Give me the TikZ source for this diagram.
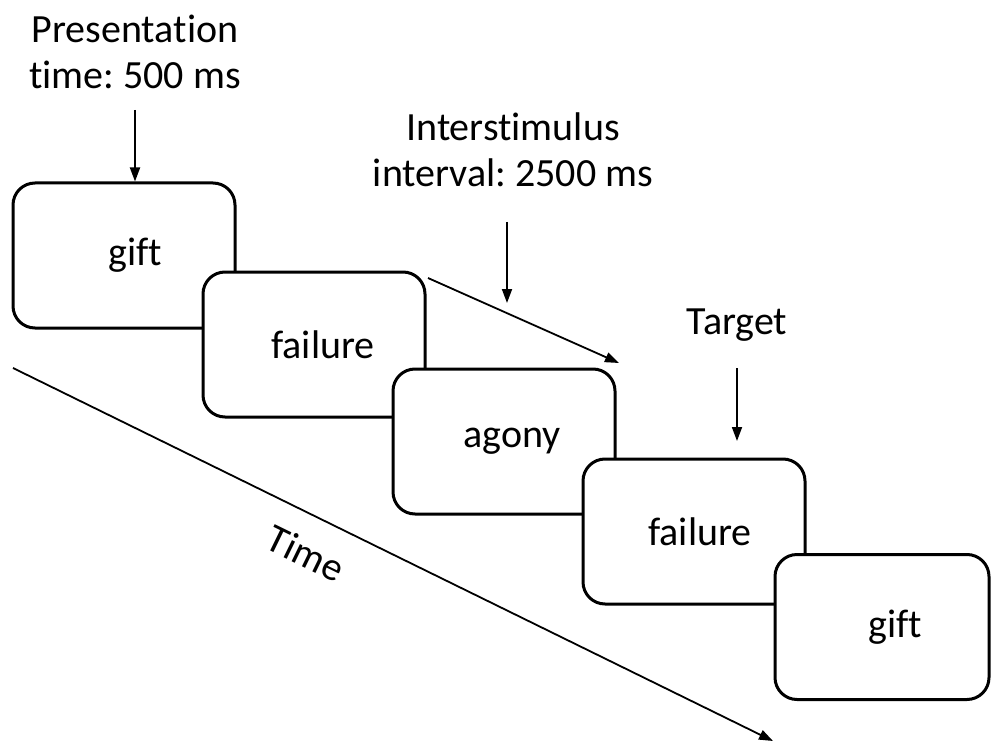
\documentclass[tikz,border=0pt]{standalone}
\usepackage{fontspec}
\setmainfont[Ligatures={NoCommon}]{Carlito}
\usetikzlibrary{arrows.meta}
\frenchspacing
\begin{document}
\begin{tikzpicture}[x=1pt,y=-1pt,
  card/.style={draw=black,line width=3pt,fill=white,rounded corners=22pt,
    minimum width=222pt,minimum height=145pt,inner sep=0pt},
  word/.style={font=\fontsize{40}{46}\selectfont,inner sep=0pt},
  lbl/.style={font=\fontsize{40}{46}\selectfont,align=center,inner sep=0pt},
  arr/.style={line width=1.8pt,-{Triangle[length=14pt,width=10pt]}}]
\useasboundingbox (0,0) rectangle (992,743);
% time axis (behind cards)
\coordinate (t0) at (13,368);
\coordinate (t1) at (773,741);
\draw[arr] (t0) -- (t1);
\node[word,rotate=-26] (time) at (306,553) {Time};
% cards
\node[card] (c1) at (124,255.5) {};
\node[word] at ([xshift=11pt]c1.center) {gift};
\node[card] (c2) at (314,344.5) {};
\node[word] at ([xshift=9pt]c2.center) {failure};
\node[card] (c3) at (504,441.5) {};
\node[word] at ([xshift=8pt]c3.center) {agony};
\node[card] (c4) at (694,531.5) {};
\node[word] at ([xshift=6pt]c4.center) {failure};
\node[card,minimum width=214pt] (c5) at (882,627) {};
\node[word] at ([xshift=13pt]c5.center) {gift};
% labels
\node[lbl] (pres) at (135,52) {Presentation\\time: 500 ms};
\coordinate (p0) at (135,110);
\draw[arr] (p0) -- (p0 |- c1.north);
\node[lbl] (isi) at (513,150) {Interstimulus\\interval: 2500 ms};
\coordinate (i0) at (507,222);
\coordinate (i1) at (507,303);
\draw[arr] (i0) -- (i1);
\coordinate (d0) at (428,278);
\coordinate (d1) at (619,363);
\draw[arr] (d0) -- (d1);
\node[word] (tgt) at (737,325) {Target};
\coordinate (g0) at (737,368);
\coordinate (g1) at (737,441);
\draw[arr] (g0) -- (g1);
\end{tikzpicture}
\end{document}
